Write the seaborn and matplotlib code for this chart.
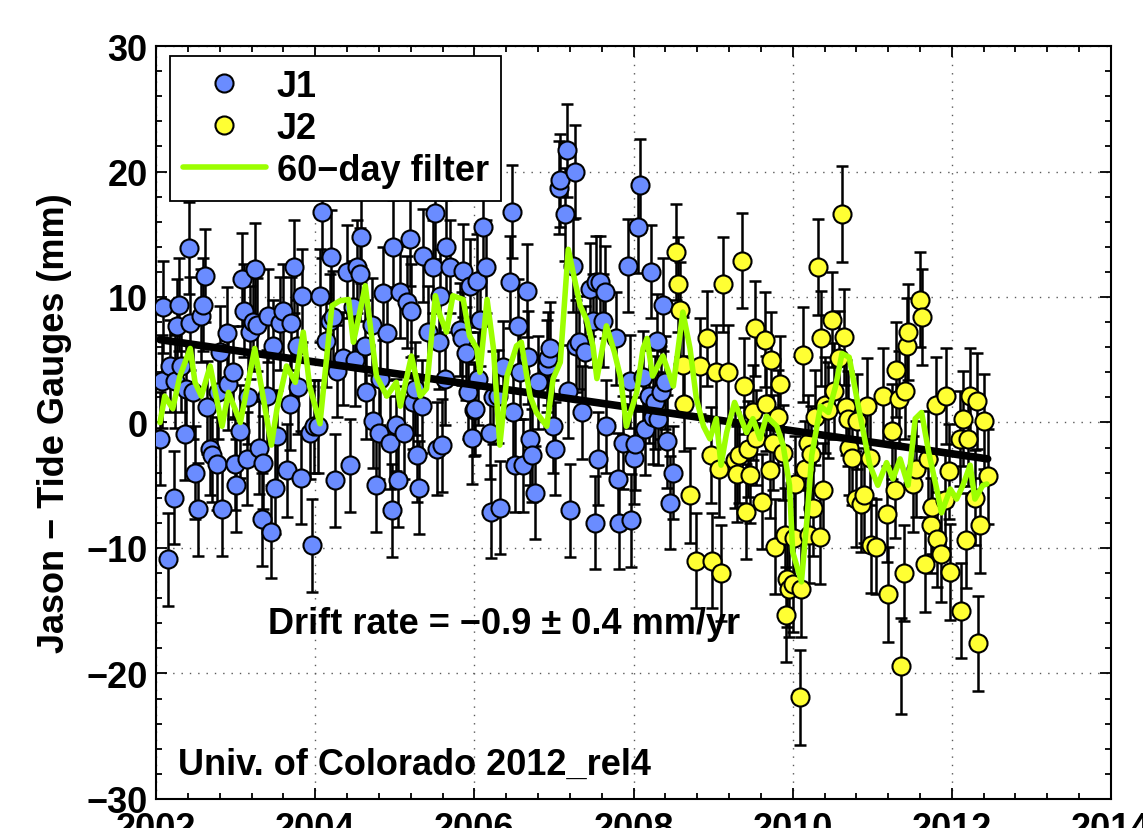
import numpy as np
import matplotlib
matplotlib.use("Agg")
import matplotlib.pyplot as plt
from matplotlib.lines import Line2D
from matplotlib.ticker import MultipleLocator
import seaborn as sns

# ---- Jason-1 minus tide gauge residuals (year, mm) ----
J1_YEAR = [2002.05, 2002.07, 2002.09, 2002.15, 2002.18, 2002.22, 2002.24, 2002.26, 2002.29, 2002.31,
           2002.36, 2002.38, 2002.41, 2002.43, 2002.47, 2002.49, 2002.53, 2002.57, 2002.59, 2002.62,
           2002.64, 2002.68, 2002.70, 2002.76, 2002.78, 2002.80, 2002.83, 2002.89, 2002.91, 2002.97,
           2002.99, 2003.01, 2003.06, 2003.08, 2003.11, 2003.14, 2003.16, 2003.18, 2003.22, 2003.24,
           2003.27, 2003.29, 2003.33, 2003.35, 2003.39, 2003.41, 2003.45, 2003.47, 2003.50, 2003.52,
           2003.56, 2003.60, 2003.64, 2003.68, 2003.70, 2003.74, 2003.77, 2003.79, 2003.82, 2003.84,
           2003.94, 2003.96, 2003.98, 2004.04, 2004.06, 2004.08, 2004.14, 2004.19, 2004.20, 2004.23,
           2004.25, 2004.27, 2004.35, 2004.40, 2004.44, 2004.48, 2004.50, 2004.52, 2004.56, 2004.58,
           2004.62, 2004.64, 2004.71, 2004.73, 2004.77, 2004.80, 2004.82, 2004.85, 2004.90, 2004.94,
           2004.96, 2004.98, 2005.02, 2005.04, 2005.07, 2005.11, 2005.15, 2005.19, 2005.21, 2005.23,
           2005.26, 2005.28, 2005.31, 2005.34, 2005.36, 2005.42, 2005.48, 2005.50, 2005.53, 2005.55,
           2005.57, 2005.59, 2005.63, 2005.65, 2005.69, 2005.82, 2005.84, 2005.86, 2005.90, 2005.92,
           2005.94, 2005.97, 2005.99, 2006.01, 2006.03, 2006.05, 2006.07, 2006.11, 2006.15, 2006.20,
           2006.21, 2006.24, 2006.30, 2006.32, 2006.36, 2006.45, 2006.47, 2006.49, 2006.51, 2006.55,
           2006.57, 2006.61, 2006.66, 2006.68, 2006.70, 2006.72, 2006.76, 2006.80, 2006.91, 2006.93,
           2006.95, 2006.99, 2007.01, 2007.06, 2007.08, 2007.14, 2007.16, 2007.18, 2007.20, 2007.24,
           2007.26, 2007.28, 2007.32, 2007.35, 2007.39, 2007.45, 2007.49, 2007.51, 2007.53, 2007.55,
           2007.58, 2007.62, 2007.64, 2007.66, 2007.78, 2007.81, 2007.82, 2007.87, 2007.93, 2007.95,
           2007.97, 2008.00, 2008.02, 2008.06, 2008.08, 2008.12, 2008.14, 2008.20, 2008.22, 2008.24,
           2008.27, 2008.29, 2008.31, 2008.35, 2008.37, 2008.39, 2008.42, 2008.46, 2008.50]
J1_MM = [-1.3, 3.3, 9.2, -10.9, 4.5, -6.0, 3.3, 7.7, 9.4, 4.5,
         -0.9, 2.7, 13.9, 7.9, 2.4, -4.0, -6.9, 8.5, 9.4, 11.7,
         1.2, -2.1, -2.6, -3.3, 2.4, 5.6, -6.9, 7.1, 3.1, 4.0,
         -3.3, -5.0, -0.7, 11.4, 8.9, -2.9, 2.0, 7.2, 8.0, 12.2,
         7.8, -2.0, -7.7, -3.2, 2.1, 8.5, -8.7, 6.1, -5.2, -1.1,
         7.9, 8.9, -3.8, 1.5, 7.9, 12.4, 6.1, 2.8, -4.4, 10.1,
         -0.8, -9.8, -0.3, -0.3, 10.1, 16.8, 6.5, 8.1, 13.2, 8.4,
         -4.6, 4.1, 5.1, 12.0, -3.4, 9.2, 5.0, 12.4, 11.8, 14.8,
         6.1, 2.4, 7.8, 0.1, -5.0, -0.8, 3.5, 10.3, 7.1, -1.6,
         -7.0, 14.0, -0.2, -4.6, 10.4, -0.8, 9.6, 14.6, 8.9, 1.6,
         2.7, -2.6, -5.2, 1.3, 13.3, 7.2, 12.4, 16.7, -2.1, 6.4,
         10.1, -1.8, 3.5, 14.0, 12.4, 7.4, 6.7, 12.1, 5.5, 2.4,
         10.9, -1.2, 1.0, 1.1, 11.3, 3.5, 8.2, 15.6, 12.4, -0.8,
         -7.1, 2.0, 2.1, -6.8, 4.4, 11.2, 16.8, 0.8, -3.4, 7.7,
         4.0, -3.4, 10.5, 5.2, -1.3, -2.6, -5.6, 3.2, 4.5, 5.1,
         5.9, -0.3, -2.1, 18.7, 19.3, 16.6, 21.7, 2.5, -7.0, 12.5,
         20.0, 6.1, 6.4, 0.8, 5.6, 10.6, 8.1, -8.0, 11.2, -2.9,
         11.2, 8.1, 10.4, -0.3, 6.7, -4.5, -8.0, -1.6, 12.5, 3.3,
         -7.8, -2.8, -1.7, 15.6, 18.9, 3.6, -0.5, 2.1, 12.0, 0.4,
         1.6, 6.5, 0.3, 2.4, 9.4, 3.2, -1.5, -6.4, -4.0]

# ---- Jason-2 minus tide gauge residuals (year, mm) ----
J2_YEAR = [2008.54, 2008.56, 2008.59, 2008.62, 2008.64, 2008.71, 2008.78, 2008.83, 2008.92, 2008.98,
           2008.99, 2009.04, 2009.07, 2009.10, 2009.13, 2009.19, 2009.28, 2009.30, 2009.32, 2009.36,
           2009.39, 2009.41, 2009.44, 2009.47, 2009.50, 2009.53, 2009.54, 2009.62, 2009.65, 2009.67,
           2009.71, 2009.73, 2009.75, 2009.78, 2009.81, 2009.84, 2009.88, 2009.90, 2009.92, 2009.93,
           2009.96, 2010.00, 2010.02, 2010.03, 2010.09, 2010.11, 2010.13, 2010.16, 2010.19, 2010.21,
           2010.23, 2010.25, 2010.28, 2010.32, 2010.34, 2010.35, 2010.38, 2010.40, 2010.45, 2010.49,
           2010.52, 2010.58, 2010.62, 2010.65, 2010.67, 2010.69, 2010.71, 2010.74, 2010.80, 2010.81,
           2010.86, 2010.90, 2010.93, 2010.97, 2010.99, 2011.05, 2011.14, 2011.18, 2011.20, 2011.25,
           2011.28, 2011.30, 2011.33, 2011.36, 2011.40, 2011.41, 2011.44, 2011.45, 2011.51, 2011.55,
           2011.60, 2011.62, 2011.66, 2011.70, 2011.74, 2011.75, 2011.80, 2011.81, 2011.86, 2011.91,
           2011.93, 2011.96, 2011.98, 2012.10, 2012.12, 2012.14, 2012.18, 2012.20, 2012.23, 2012.29,
           2012.31, 2012.33, 2012.36, 2012.41, 2012.45]
J2_MM = [13.6, 11.0, 9.0, 4.6, 1.5, -5.8, -11.0, 4.5, 6.7, -2.6,
         -11.0, 4.0, -3.7, -12.0, 11.0, 4.0, -3.0, -4.1, -2.6, 12.9,
         2.9, -7.1, -2.1, -4.2, 0.8, 7.5, -1.2, -6.3, 6.6, 1.5,
         -3.8, 5.0, -1.6, -9.9, 0.4, 3.1, -2.4, -9.0, -15.3, -12.5,
         -13.3, -12.9, -9.2, -4.9, -21.9, -13.3, 5.4, -3.7, -1.6, -9.0,
         -2.5, -6.8, 0.4, 12.4, -9.1, 6.7, -5.4, 1.4, 1.0, 8.2,
         2.5, 5.1, 16.6, 6.8, 1.2, 0.3, -2.0, -2.8, -6.1, 0.1,
         -6.5, -5.8, 1.3, -2.8, -9.8, -9.9, 2.1, -7.3, -13.7, -0.7,
         -5.4, 4.2, 1.9, -19.4, -12.0, 2.5, 6.1, 7.2, -4.9, -3.7,
         9.8, 8.4, -11.3, -2.9, -8.2, -6.7, 1.4, -9.3, -10.5, -6.2,
         2.1, -3.9, -11.9, -1.3, -15.0, 0.3, -9.4, -1.3, 2.1, -6.0,
         1.7, -17.6, -8.2, 0.1, -4.3]

# one-sigma error bar half-lengths (mm)
J1_ERR = 3.7
J2_ERR = 3.8

# ---- 60-day filtered residuals (year, mm) ----
FILTER_YEAR = [2002.05, 2002.11, 2002.21, 2002.30, 2002.43, 2002.49, 2002.57, 2002.68, 2002.83, 2002.91,
               2003.06, 2003.24, 2003.45, 2003.52, 2003.64, 2003.75, 2003.85, 2003.93, 2004.06, 2004.21,
               2004.31, 2004.42, 2004.48, 2004.63, 2004.77, 2004.90, 2005.02, 2005.07, 2005.21, 2005.32,
               2005.40, 2005.51, 2005.57, 2005.65, 2005.73, 2005.86, 2005.94, 2006.03, 2006.07, 2006.16,
               2006.24, 2006.32, 2006.41, 2006.53, 2006.59, 2006.70, 2006.78, 2006.91, 2006.99, 2007.08,
               2007.18, 2007.33, 2007.41, 2007.49, 2007.54, 2007.66, 2007.76, 2007.84, 2007.91, 2008.04,
               2008.12, 2008.17, 2008.24, 2008.37, 2008.50, 2008.62, 2008.71, 2008.79, 2008.88, 2008.96,
               2009.04, 2009.10, 2009.17, 2009.27, 2009.34, 2009.42, 2009.50, 2009.59, 2009.67, 2009.80,
               2009.88, 2009.96, 2010.00, 2010.11, 2010.18, 2010.24, 2010.35, 2010.45, 2010.54, 2010.62,
               2010.71, 2010.84, 2010.97, 2011.07, 2011.18, 2011.26, 2011.35, 2011.45, 2011.54, 2011.62,
               2011.71, 2011.81, 2011.87, 2011.98, 2012.06, 2012.14, 2012.23, 2012.29, 2012.39, 2012.44]
FILTER_MM = [0.0, 2.1, 1.1, 3.7, 5.9, 3.2, 2.1, 4.5, -0.3, 2.4,
             0.0, 5.9, -1.8, 1.1, 4.5, 3.2, 7.2, 2.9, -0.1, 9.3,
             9.7, 9.8, 6.4, 10.9, 3.7, 2.1, 3.2, 1.3, 5.3, 2.1,
             2.7, 10.1, 8.5, 7.2, 10.1, 9.8, 6.9, 5.9, 4.0, 9.8,
             5.9, -1.8, 3.7, 6.1, 6.4, 2.1, 0.8, -0.3, 3.5, 4.8,
             13.8, 9.3, 8.2, 6.1, 3.5, 7.7, 5.6, 3.5, -0.3, 2.4,
             5.9, 6.7, 3.7, 5.3, 2.9, 8.8, 5.9, 1.9, -0.3, -1.3,
             0.3, -3.4, -0.8, 1.6, 0.5, -0.8, 0.3, -1.3, 0.5, -0.3,
             -1.8, -5.0, -10.3, -12.7, -7.7, -2.6, 1.3, 0.8, 2.9, 5.5,
             5.2, 0.8, -3.4, -5.0, -3.2, -4.5, -2.9, -5.0, 0.3, 0.8,
             -2.4, -5.3, -7.2, -5.3, -6.1, -5.0, -3.4, -6.1, -5.0, -4.9]

# ---- linear drift fit end points (year, mm) ----
TREND_YEAR = [2002.05, 2012.45]
TREND_MM = [6.6, -2.9]

X_TICKS = [2002, 2004, 2006, 2008, 2010, 2012, 2014]
Y_TICKS = [-30, -20, -10, 0, 10, 20, 30]

BLUE = "#6A8CFF"
YELLOW = "#FFFF33"
GREEN = "#9CFF00"

sns.set_theme(style="ticks")
plt.rcParams["font.family"] = ["Liberation Sans", "DejaVu Sans"]
plt.rcParams["font.weight"] = "bold"
plt.rcParams["axes.labelweight"] = "bold"
plt.rcParams["text.color"] = "black"
plt.rcParams["axes.labelcolor"] = "black"
plt.rcParams["xtick.color"] = "black"
plt.rcParams["ytick.color"] = "black"

FS = 26

fig = plt.figure(figsize=(11.43, 8.29), dpi=100)
ax = fig.add_axes([0.1365, 0.035, 0.8355, 0.9083])

# error bars and markers for each mission
ax.errorbar(J1_YEAR, J1_MM, yerr=J1_ERR, fmt="none", ecolor="black",
            elinewidth=1.8, capsize=4, capthick=1.8, zorder=2)
sns.scatterplot(x=J1_YEAR, y=J1_MM, ax=ax, s=13 ** 2, color=BLUE,
                edgecolor="black", linewidth=1.5, zorder=3, legend=False)
ax.errorbar(J2_YEAR, J2_MM, yerr=J2_ERR, fmt="none", ecolor="black",
            elinewidth=1.8, capsize=4, capthick=1.8, zorder=3.5)
sns.scatterplot(x=J2_YEAR, y=J2_MM, ax=ax, s=13 ** 2, color=YELLOW,
                edgecolor="black", linewidth=1.5, zorder=3.6, legend=False)

# drift fit and filtered series
sns.lineplot(x=TREND_YEAR, y=TREND_MM, ax=ax, color="black", linewidth=5.5,
             zorder=4, estimator=None, legend=False)
sns.lineplot(x=FILTER_YEAR, y=FILTER_MM, ax=ax, color=GREEN, linewidth=4.0,
             zorder=5, estimator=None, legend=False)

ax.set_xlim(2002, 2014)
ax.set_ylim(-30, 30)
ax.set_xticks(X_TICKS)
ax.set_yticks(Y_TICKS)
ax.set_xticklabels([str(t) for t in X_TICKS])
ax.set_yticklabels([str(t).replace("-", "\u2212") for t in Y_TICKS])
ax.xaxis.set_minor_locator(MultipleLocator(0.4))
ax.yaxis.set_minor_locator(MultipleLocator(2))
ax.tick_params(axis="both", which="both", direction="in", top=True, right=True,
               colors="black", labelcolor="black", labelsize=FS, width=1.3)
ax.tick_params(axis="both", which="major", length=8)
ax.tick_params(axis="both", which="minor", length=4.5)
ax.tick_params(axis="x", which="major", pad=9)
ax.tick_params(axis="y", which="major", pad=6)
for lab in ax.get_xticklabels() + ax.get_yticklabels():
    lab.set_fontweight("bold")
    lab.set_color("black")

ax.grid(True, which="major", linestyle=(0, (1, 5)), color="0.35", linewidth=1.0)
for sp in ax.spines.values():
    sp.set_linewidth(1.5)
    sp.set_color("black")

ax.set_xlabel("")
ax.set_ylabel("Jason \u2212 Tide Gauges (mm)", fontsize=FS, fontweight="bold",
              color="black")
ax.yaxis.set_label_coords(-0.088, 0.5)

ax.text(2003.41, -16.0, "Drift rate = \u22120.9 \u00b1 0.4 mm/yr", color="black",
        fontsize=FS, fontweight="bold", ha="left", va="center", zorder=6)
ax.text(2002.28, -27.2, "Univ. of Colorado 2012_rel4", color="black",
        fontsize=FS, fontweight="bold", ha="left", va="center", zorder=6)

handles = [
    Line2D([], [], linestyle="none", marker="o", markersize=13,
           markerfacecolor=BLUE, markeredgecolor="black", markeredgewidth=1.5),
    Line2D([], [], linestyle="none", marker="o", markersize=13,
           markerfacecolor=YELLOW, markeredgecolor="black", markeredgewidth=1.5),
    Line2D([], [], color=GREEN, linewidth=4.0),
]
leg = ax.legend(handles, ["J1", "J2", "60\u2212day filter"], loc="upper left",
                bbox_to_anchor=(0.0147, 0.9867), borderaxespad=0,
                prop={"size": FS, "weight": "bold"}, frameon=True, fancybox=False,
                framealpha=1, edgecolor="black", handlelength=2.3,
                handletextpad=0.3, labelspacing=0.2, borderpad=0.35)
leg.get_frame().set_linewidth(1.3)
for t in leg.get_texts():
    t.set_color("black")
leg.set_zorder(10)

fig.savefig("out.png", dpi=100)
